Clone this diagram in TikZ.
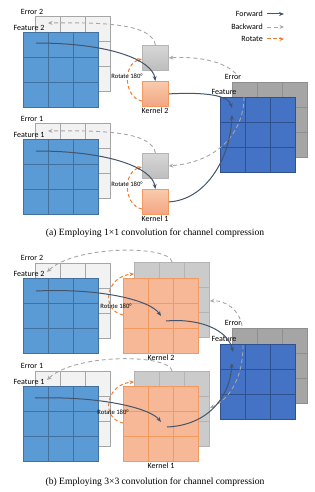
\documentclass[tikz,border=0pt]{standalone}
\usepackage{fontspec}
\setmainfont{Carlito}
\newfontfamily\capfont{Liberation Serif}
\usepackage{xcolor}
\definecolor{featLight}{HTML}{5B9BD5}
\definecolor{featLightLine}{HTML}{41719C}
\definecolor{featDark}{HTML}{4472C4}
\definecolor{featDarkLine}{HTML}{2F528F}
\definecolor{errLight}{HTML}{F2F2F2}
\definecolor{errLightLine}{HTML}{A6A6A6}
\definecolor{errDark}{HTML}{A5A5A5}
\definecolor{errDarkLine}{HTML}{8F8F8F}
\definecolor{kerTop}{HTML}{F8CBAD}
\definecolor{kerBottom}{HTML}{F4A582}
\definecolor{kerFill}{HTML}{F6B896}
\definecolor{kerLine}{HTML}{F39A60}
\definecolor{rotTop}{HTML}{D6D6D6}
\definecolor{rotBottom}{HTML}{BEBEBE}
\definecolor{rotFill}{HTML}{CBCBCB}
\definecolor{rotLine}{HTML}{B4B4B4}
\definecolor{vizForward}{HTML}{44546A}
\definecolor{vizBackward}{HTML}{A6A6A6}
\definecolor{vizRotate}{HTML}{ED7D31}
\usetikzlibrary{arrows.meta}
\tikzset{
  cells/.style={path picture={
    \foreach \k in {1,2} {
      \draw[#1, line width=0.8pt] ([xshift=\k*25pt]path picture bounding box.north west) -- ([xshift=\k*25pt]path picture bounding box.south west);
      \draw[#1, line width=0.8pt] ([yshift=-\k*25pt]path picture bounding box.north west) -- ([yshift=-\k*25pt]path picture bounding box.north east);
    }}},
  cellbox/.style={rectangle, inner sep=0pt, minimum width=75pt, minimum height=75pt, anchor=north west, line width=0.8pt},
  kbox/.style={rectangle, inner sep=0pt, minimum width=26pt, minimum height=25pt, anchor=north west, line width=0.8pt},
  errsmall/.style={fill=errLight, draw=errLightLine, cells=errLightLine},
  featsmall/.style={fill=featLight, draw=featLightLine, cells=featLightLine},
  errbig/.style={fill=errDark, draw=errDarkLine, cells=errDarkLine},
  featbig/.style={fill=featDark, draw=featDarkLine, cells=featDarkLine},
  kerbig/.style={fill=kerFill, draw=kerLine, cells=kerLine},
  rotbig/.style={fill=rotFill, draw=rotLine, cells=rotLine},
  kerbox/.style={top color=kerTop, bottom color=kerBottom, draw=kerLine},
  rotbox/.style={top color=rotTop, bottom color=rotBottom, draw=rotLine},
  lbl/.style={inner sep=0pt, font=\fontsize{8}{9}\selectfont},
  rotlbl/.style={inner sep=0pt, font=\fontsize{6.6}{8}\selectfont},
  captext/.style={inner sep=0pt, font=\capfont\fontsize{9.6}{11}\selectfont},
  fwd/.style={draw=vizForward, line width=1pt, -{Stealth[length=5pt,width=4pt]}},
  bwd/.style={draw=vizBackward, line width=0.9pt, dash pattern=on 4pt off 3pt, -{Stealth[length=4.5pt,width=4pt]}},
  rot/.style={draw=vizRotate, line width=1pt, dash pattern=on 3.5pt off 2.5pt, -{Stealth[length=4.5pt,width=4pt]}}
}

\begin{document}
\begin{tikzpicture}[x=1pt, y=-1pt]
  \useasboundingbox (0,0) rectangle (315,492);

  \node[cellbox, errsmall] (err2) at (35,16) {};
  \node[cellbox, featsmall] (feat2) at (23,32) {};
  \node[cellbox, errsmall] (err1) at (35,123) {};
  \node[cellbox, featsmall] (feat1) at (23,139) {};
  \node[kbox, rotbox] (rot2) at (142,45) {};
  \node[kbox, kerbox] (ker2) at (142,81) {};
  \node[kbox, rotbox] (rot1) at (142,153) {};
  \node[kbox, kerbox] (ker1) at (142,189) {};
  \node[cellbox, errbig] (errout) at (232,82) {};
  \node[cellbox, featbig] (featout) at (220,97) {};

  \node[lbl] (lerr2) at (32,12) {Error 2};
  \node[lbl] (lfeat2) at (29,28) {Feature 2};
  \node[lbl] (lerr1) at (32,119) {Error 1};
  \node[lbl] (lfeat1) at (29,135) {Feature 1};
  \node[lbl] (lker2) at (155,111) {Kernel 2};
  \node[lbl] (lker1) at (155,219) {Kernel 1};
  \node[rotlbl] (lrot2) at (127,76) {Rotate 180°};
  \node[rotlbl] (lrot1) at (127,184) {Rotate 180°};
  \node[lbl] (lerrout) at (233,77) {Error};
  \node[lbl] (lfeatout) at (224,92) {Feature};

  \coordinate (f2in) at (36,43);
  \coordinate (f1in) at (36,151);
  \coordinate (e2in) at (48,23);
  \coordinate (e1in) at (48,131);
  \coordinate (fo2) at (232,108);
  \coordinate (fo1) at (232,115);
  \coordinate (eo2) at (240,79);
  \coordinate (eo1) at (244,97);
  \coordinate (r2a) at (142,101);
  \coordinate (r2b) at (142,59);
  \coordinate (r1a) at (142,209);
  \coordinate (r1b) at (142,167);

  \draw[bwd] (rot2.north) .. controls (152,25) and (110,22) .. (e2in);
  \draw[bwd] (rot1.north) .. controls (152,133) and (110,130) .. (e1in);
  \draw[bwd] (eo2) .. controls (230,62) and (200,56) .. (rot2.east);
  \draw[bwd] (eo1) .. controls (244,130) and (220,162) .. (rot1.east);
  \draw[rot] (r2a) .. controls (124,98) and (122,64) .. (r2b);
  \draw[rot] (r1a) .. controls (124,206) and (122,172) .. (r1b);
  \draw[fwd] (f2in) .. controls (110,43) and (152,60) .. (ker2.north);
  \draw[fwd] (f1in) .. controls (110,151) and (152,168) .. (ker1.north);
  \draw[fwd] (ker2.east) .. controls (205,92) and (228,95) .. (fo2);
  \draw[fwd] (ker1.east) .. controls (205,200) and (230,160) .. (fo1);

  \node[lbl, anchor=east] (lfwd) at (263,14) {Forward};
  \node[lbl, anchor=east] (lbwd) at (263,27) {Backward};
  \node[lbl, anchor=east] (lrot) at (263,39) {Rotate};
  \coordinate (kf1) at (267,14);
  \coordinate (kf2) at (284,14);
  \coordinate (kb1) at (267,27);
  \coordinate (kb2) at (284,27);
  \coordinate (kr1) at (267,39);
  \coordinate (kr2) at (284,39);
  \draw[fwd] (kf1) -- (kf2);
  \draw[bwd] (kb1) -- (kb2);
  \draw[rot] (kr1) -- (kr2);

  \node[captext] (capa) at (155,233) {(a) Employing 1×1 convolution for channel compression};

  \node[cellbox, errsmall] (err2b) at (35,263) {};
  \node[cellbox, featsmall] (feat2b) at (23,278) {};
  \node[cellbox, rotbig] (rot2b) at (134,262) {};
  \node[cellbox, kerbig] (ker2b) at (123,278) {};
  \node[cellbox, errsmall] (err1b) at (35,371) {};
  \node[cellbox, featsmall] (feat1b) at (23,386) {};
  \node[cellbox, rotbig] (rot1b) at (134,371) {};
  \node[cellbox, kerbig] (ker1b) at (123,386) {};
  \node[cellbox, errbig] (erroutb) at (232,328) {};
  \node[cellbox, featbig] (featoutb) at (220,344) {};

  \node[lbl] (lerr2b) at (32,258) {Error 2};
  \node[lbl] (lfeat2b) at (29,274) {Feature 2};
  \node[lbl] (lerr1b) at (32,366) {Error 1};
  \node[lbl] (lfeat1b) at (29,382) {Feature 1};
  \node[lbl] (lker2b) at (161,358) {Kernel 2};
  \node[lbl] (lker1b) at (161,466) {Kernel 1};
  \node[rotlbl] (lrot2b) at (116,306) {Rotate 180°};
  \node[rotlbl] (lrot1b) at (113,412) {Rotate 180°};
  \node[lbl] (lerroutb) at (233,323) {Error};
  \node[lbl] (lfeatoutb) at (224,339) {Feature};

  \coordinate (f2inb) at (36,291);
  \coordinate (f1inb) at (35,398);
  \coordinate (k2in) at (161,316);
  \coordinate (k1in) at (161,422);
  \coordinate (k2out) at (166,321);
  \coordinate (k1out) at (167,427);
  \coordinate (fo2b) at (233,352);
  \coordinate (fo1b) at (232,363);
  \coordinate (eo2b) at (242,326);
  \coordinate (eo1b) at (243,345);
  \coordinate (ro2b) at (210,301);
  \coordinate (ro1b) at (210,408);
  \coordinate (rt2b) at (172,262);
  \coordinate (rt1b) at (172,371);
  \coordinate (e2inb) at (47,272);
  \coordinate (e1inb) at (47,380);
  \coordinate (r2ab) at (123,315);
  \coordinate (r2bb) at (134,274);
  \coordinate (r1ab) at (123,423);
  \coordinate (r1bb) at (134,382);

  \draw[bwd] (rt2b) .. controls (170,245) and (75,245) .. (e2inb);
  \draw[bwd] (rt1b) .. controls (170,354) and (75,353) .. (e1inb);
  \draw[bwd] (eo2b) .. controls (240,310) and (225,300) .. (ro2b);
  \draw[bwd] (eo1b) .. controls (243,380) and (228,400) .. (ro1b);
  \draw[rot] (r2ab) .. controls (100,310) and (106,276) .. (r2bb);
  \draw[rot] (r1ab) .. controls (100,418) and (106,384) .. (r1bb);
  \draw[fwd] (f2inb) .. controls (100,288) and (150,300) .. (k2in);
  \draw[fwd] (f1inb) .. controls (100,396) and (150,408) .. (k1in);
  \draw[fwd] (k2out) .. controls (200,318) and (228,330) .. (fo2b);
  \draw[fwd] (k1out) .. controls (210,425) and (230,395) .. (fo1b);

  \node[captext] (capb) at (155,482) {(b) Employing 3×3 convolution for channel compression};
\end{tikzpicture}
\end{document}
